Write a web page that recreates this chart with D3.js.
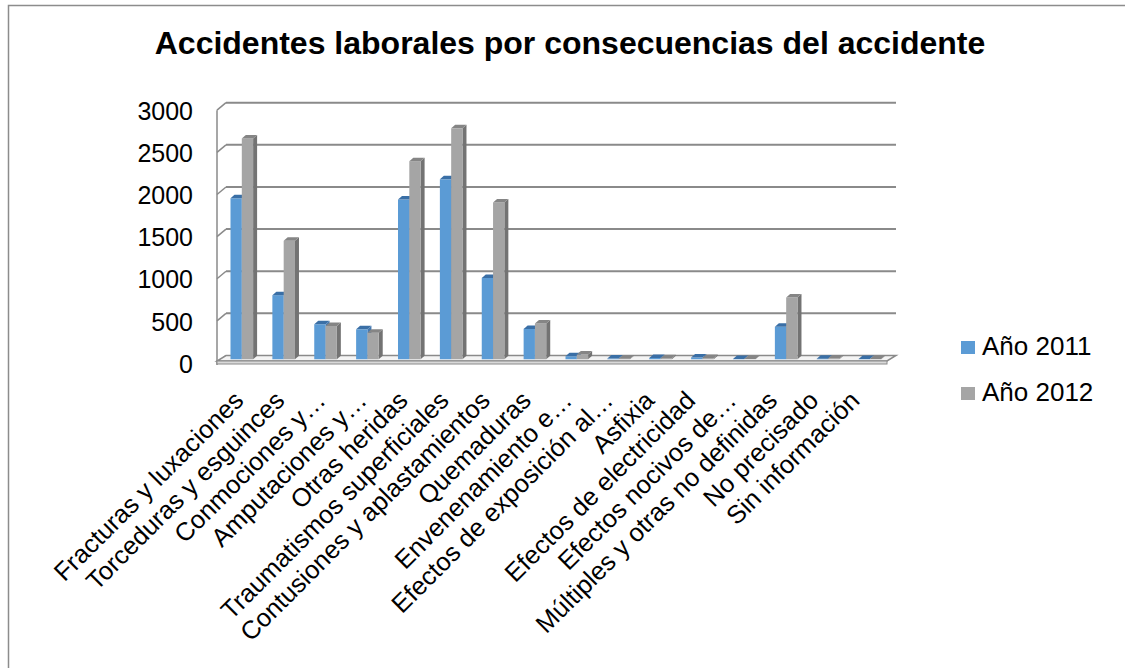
<!DOCTYPE html>
<html lang="es">
<meta charset="utf-8">
<head>
<script src="https://d3js.org/d3.v7.min.js"></script>
<style>
  body { margin: 0; background: #fff; }
  text { font-family: "Liberation Sans", Arial, sans-serif; fill: #000; }
</style>
</head>
<body>
<script>
// categories and values
const categories = [
  "Fracturas y luxaciones", "Torceduras y esguinces", "Conmociones y…",
  "Amputaciones y…", "Otras heridas", "Traumatismos superficiales",
  "Contusiones y aplastamientos", "Quemaduras", "Envenenamiento e…",
  "Efectos de exposición al…", "Asfixia", "Efectos de electricidad",
  "Efectos nocivos de…", "Múltiples y otras no definidas", "No precisado",
  "Sin información"
];
const series = ["Año 2011", "Año 2012"];
const values2011 = [1910, 760, 415, 355, 1895, 2135, 965, 360, 35, 8, 15, 20, 3, 385, 6, 4];
const values2012 = [2620, 1405, 395, 315, 2350, 2740, 1860, 425, 55, 6, 12, 14, 2, 732, 8, 4];
const yTicks = [0, 500, 1000, 1500, 2000, 2500, 3000];

const W = 1125, H = 668;
const front = {left: 217, right: 887, bottom: 363};
const depth = {dx: 9, dy: -7.5};   // wall depth
const bar = {dx: 4, dy: -3.5};     // depth of a single bar

const svg = d3.select("body").append("svg")
  .attr("width", W).attr("height", H);

// outer chart border
svg.append("rect")
  .attr("x", 8.5).attr("y", 5.5).attr("width", 1200).attr("height", 800)
  .attr("fill", "none").attr("stroke", "#8c8c8c").attr("stroke-width", 1.5);

// title
svg.append("text")
  .attr("x", 570).attr("y", 54)
  .attr("text-anchor", "middle")
  .style("font-size", "32px").style("font-weight", "bold")
  .text("Accidentes laborales por consecuencias del accidente");

// scales
const x = d3.scaleBand().domain(categories).range([front.left, front.right]);
const xs = d3.scaleBand().domain(series).range([9, 31.6]);
const yFront = d3.scaleLinear().domain([0, 3000]).range([front.bottom, 110.2]);
const yBack = v => yFront(v) + depth.dy;
const yMid = v => yFront(v) + depth.dy / 2;

const grid = "#8a8a8a";

// back wall gridlines + left wall diagonals
const g = svg.append("g");
yTicks.forEach(v => {
  if (v > 0) {
    g.append("line")
      .attr("x1", front.left + depth.dx).attr("x2", front.right + depth.dx)
      .attr("y1", yBack(v)).attr("y2", yBack(v))
      .attr("stroke", grid).attr("stroke-width", 2);
  }
  g.append("line")
    .attr("x1", front.left).attr("y1", yFront(v))
    .attr("x2", front.left + depth.dx).attr("y2", yBack(v))
    .attr("stroke", grid).attr("stroke-width", 1.5);
});
g.append("line")
  .attr("x1", front.left).attr("x2", front.left)
  .attr("y1", yFront(3000)).attr("y2", front.bottom + 2)
  .attr("stroke", grid).attr("stroke-width", 1.5);

// floor (thin slab)
const floorPts = [
  [front.left, front.bottom - 2], [front.right, front.bottom - 2],
  [front.right + depth.dx, yBack(0)], [front.left + depth.dx, yBack(0)]
];
g.append("polygon")
  .attr("points", floorPts.map(p => p.join(",")).join(" "))
  .attr("fill", "#f4f4f4").attr("stroke", grid).attr("stroke-width", 1.5);
g.append("rect")
  .attr("x", front.left).attr("y", front.bottom - 2)
  .attr("width", front.right - front.left).attr("height", 3)
  .attr("fill", "#d9d9d9").attr("stroke", grid).attr("stroke-width", 1);

// y axis labels
svg.append("g").selectAll("text")
  .data(yTicks)
  .join("text")
  .attr("x", 193).attr("y", d => yFront(d) + 1)
  .attr("dy", "0.35em")
  .attr("text-anchor", "end")
  .style("font-size", "25px")
  .text(d => d);

// bars
const colors = {
  "Año 2011": {front: "#5b9bd5", top: "#3a6fa6", side: "#4679b0"},
  "Año 2012": {front: "#a5a5a5", top: "#858585", side: "#737373"}
};
const rows = [];
categories.forEach((c, i) => {
  rows.push({cat: c, s: "Año 2011", v: values2011[i]});
  rows.push({cat: c, s: "Año 2012", v: values2012[i]});
});

const bw = xs.bandwidth();
const bars = svg.append("g").selectAll("g")
  .data(rows)
  .join("g");

function pts(a) { return a.map(p => p.join(",")).join(" "); }

bars.each(function(d) {
  const el = d3.select(this);
  const x0 = x(d.cat) + xs(d.s) + depth.dx / 2;
  const yb = yMid(0);
  const yt = yMid(d.v);
  const col = colors[d.s];
  el.append("polygon")
    .attr("points", pts([[x0 + bw, yt], [x0 + bw + bar.dx, yt + bar.dy],
                         [x0 + bw + bar.dx, yb + bar.dy], [x0 + bw, yb]]))
    .attr("fill", col.side);
  el.append("rect")
    .attr("x", x0).attr("y", yt)
    .attr("width", bw).attr("height", yb - yt)
    .attr("fill", col.front);
  el.append("polygon")
    .attr("points", pts([[x0, yt], [x0 + bw, yt],
                         [x0 + bw + bar.dx, yt + bar.dy], [x0 + bar.dx, yt + bar.dy]]))
    .attr("fill", col.top);
});

// category labels, rotated
const xl = d3.scalePoint().domain(categories).range([245, 861]);
svg.append("g").selectAll("text")
  .data(categories)
  .join("text")
  .attr("transform", d => "translate(" + xl(d) + ",402) rotate(-45)")
  .attr("text-anchor", "end")
  .style("font-size", "25.5px")
  .text(d => d);

// legend
const leg = svg.append("g").selectAll("g")
  .data(series)
  .join("g")
  .attr("transform", (d, i) => "translate(961," + (341 + i * 46) + ")");
leg.append("rect")
  .attr("width", 14).attr("height", 13)
  .attr("fill", d => colors[d].front);
leg.append("text")
  .attr("x", 21).attr("y", 14)
  .style("font-size", "26px")
  .text(d => d);
</script>
</body>
</html>
